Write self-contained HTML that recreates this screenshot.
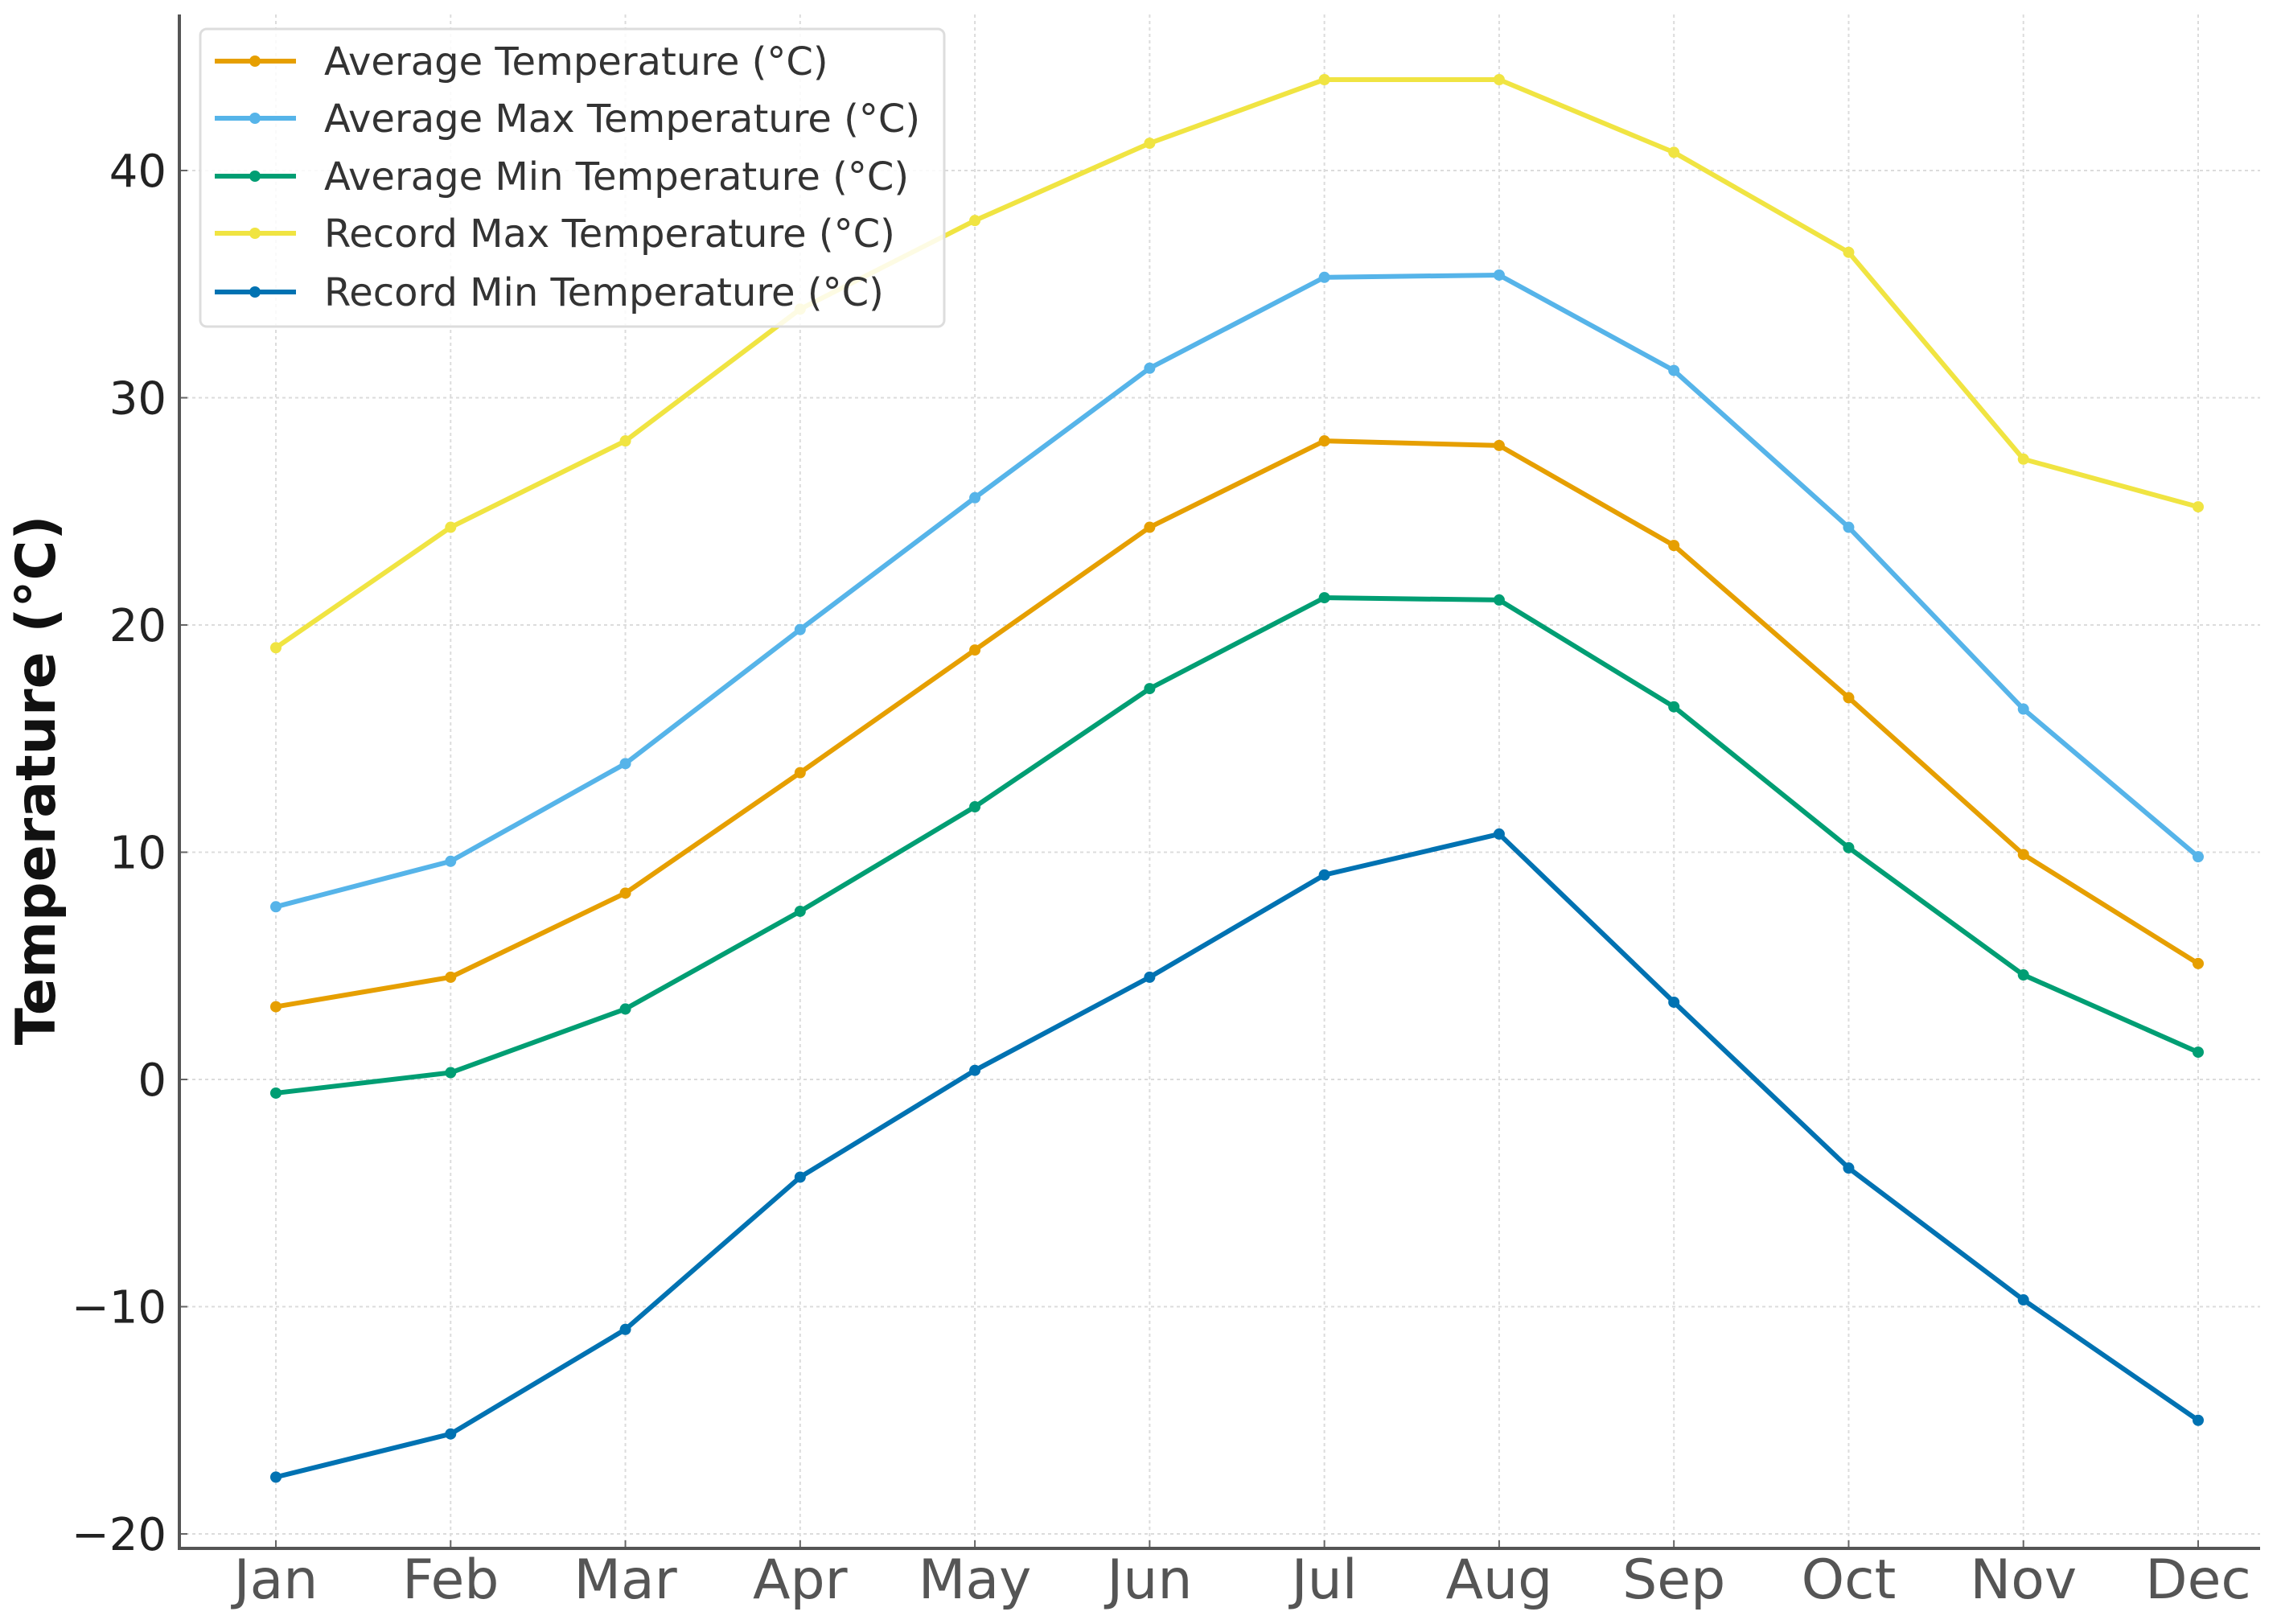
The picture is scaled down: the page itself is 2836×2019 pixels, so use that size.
<!DOCTYPE html>
<html><head><meta charset="utf-8"><style>
html,body{margin:0;padding:0;background:#fff;}
svg{display:block;font-family:"DejaVu Sans","Liberation Sans",sans-serif;}
</style></head><body>
<svg id="chart" width="2836" height="2019" viewBox="0 0 2836 2019" xmlns="http://www.w3.org/2000/svg">
<g id="grid"></g>
<g id="axes"></g>
<g id="series"></g>
<g id="legend"></g>
</svg>
<script>
const months = ["Jan","Feb","Mar","Apr","May","Jun","Jul","Aug","Sep","Oct","Nov","Dec"];
const yTicks = [-20,-10,0,10,20,30,40];
const avgTemp = [3.2,4.5,8.2,13.5,18.9,24.3,28.1,27.9,23.5,16.8,9.9,5.1];
const avgMax = [7.6,9.6,13.9,19.8,25.6,31.3,35.3,35.4,31.2,24.3,16.3,9.8];
const avgMin = [-0.6,0.3,3.1,7.4,12.0,17.2,21.2,21.1,16.4,10.2,4.6,1.2];
const recMax = [19.0,24.3,28.1,33.9,37.8,41.2,44.0,44.0,40.8,36.4,27.3,25.2];
const recMin = [-17.5,-15.6,-11.0,-4.3,0.4,4.5,9.0,10.8,3.4,-3.9,-9.7,-15.0];
const seriesNames = ["Average Temperature (°C)","Average Max Temperature (°C)","Average Min Temperature (°C)","Record Max Temperature (°C)","Record Min Temperature (°C)"];
const seriesColors = ["#e69f00","#56b4e9","#009e73","#f0e442","#0072b2"];
const seriesData = [avgTemp,avgMax,avgMin,recMax,recMin];
const seriesKeys = ["avg-temp","avg-max-temp","avg-min-temp","record-max-temp","record-min-temp"];

const NS="http://www.w3.org/2000/svg";
const L=223,R=2810,T=18,B=1925;
const xJan=343,xDec=2733;
function xs(i){return xJan+(xDec-xJan)*i/(months.length-1);}
function ys(v){return 212+(40-v)*(1907-212)/60;}
function mk(tag,attrs,parent){const e=document.createElementNS(NS,tag);for(const k in attrs)e.setAttribute(k,attrs[k]);parent.appendChild(e);return e;}
const grid=document.getElementById('grid'),axes=document.getElementById('axes'),ser=document.getElementById('series'),leg=document.getElementById('legend');

months.forEach((m,i)=>{
  const g=mk('line',{x1:xs(i),x2:xs(i),y1:T,y2:B,stroke:'#dcdcdc','stroke-width':2,'stroke-dasharray':'4,4'},grid);
  
  
  const t=mk('line',{x1:xs(i),x2:xs(i),y1:B,y2:B-10,stroke:'#666','stroke-width':2},axes);
  
  
  const tx=mk('text',{x:xs(i),y:B+62,'text-anchor':'middle','font-size':68,fill:'#555'},axes);
  tx.textContent=m;
  
  
});
yTicks.forEach(v=>{
  const g=mk('line',{x1:L,x2:R,y1:ys(v),y2:ys(v),stroke:'#dcdcdc','stroke-width':2,'stroke-dasharray':'4,4'},grid);
  
  
  const t=mk('line',{x1:L,x2:L+10,y1:ys(v),y2:ys(v),stroke:'#666','stroke-width':2},axes);
  
  
  const tx=mk('text',{x:L-16,y:ys(v)+20,'text-anchor':'end','font-size':56,fill:'#222'},axes);
  tx.textContent=(v<0?'\u2212'+(-v):String(v));
  
  
});
const ax=mk('path',{d:`M${L},${T} L${L},${B} L${R},${B}`,fill:'none',stroke:'#555','stroke-width':4},axes);


const yl=mk('text',{x:0,y:0,transform:`translate(68,970) rotate(-90)`,'text-anchor':'middle','font-size':68,'font-weight':'bold',fill:'#111'},axes);
yl.textContent='Temperature (°C)';



const order=[3,1,0,2,4];
order.forEach(s=>{
  const d=seriesData[s];
  const g=mk('g',{},ser);
  
  
  const pl=mk('polyline',{points:d.map((v,i)=>xs(i)+','+ys(v)).join(' '),fill:'none',stroke:seriesColors[s],'stroke-width':6,'stroke-linejoin':'round'},g);
  
  
  d.forEach((v,i)=>{
    const c=mk('circle',{cx:xs(i),cy:ys(v),r:7,fill:seriesColors[s]},g);
    
    
  });
});

const box=mk('rect',{x:249,y:36,width:925,height:370,rx:8,fill:'rgba(255,255,255,0.85)',stroke:'#ddd','stroke-width':3},leg);


const rowsY=[76,147,219,290,363];
seriesNames.forEach((n,s)=>{
  const g=mk('g',{},leg);
  
  
  mk('line',{x1:267,x2:368,y1:rowsY[s],y2:rowsY[s],stroke:seriesColors[s],'stroke-width':6},g);
  mk('circle',{cx:317,cy:rowsY[s],r:7,fill:seriesColors[s]},g);
  const t=mk('text',{x:403,y:rowsY[s]+17,'font-size':48,fill:'#333'},g);
  t.textContent=n;
});
</script>
</body></html>
